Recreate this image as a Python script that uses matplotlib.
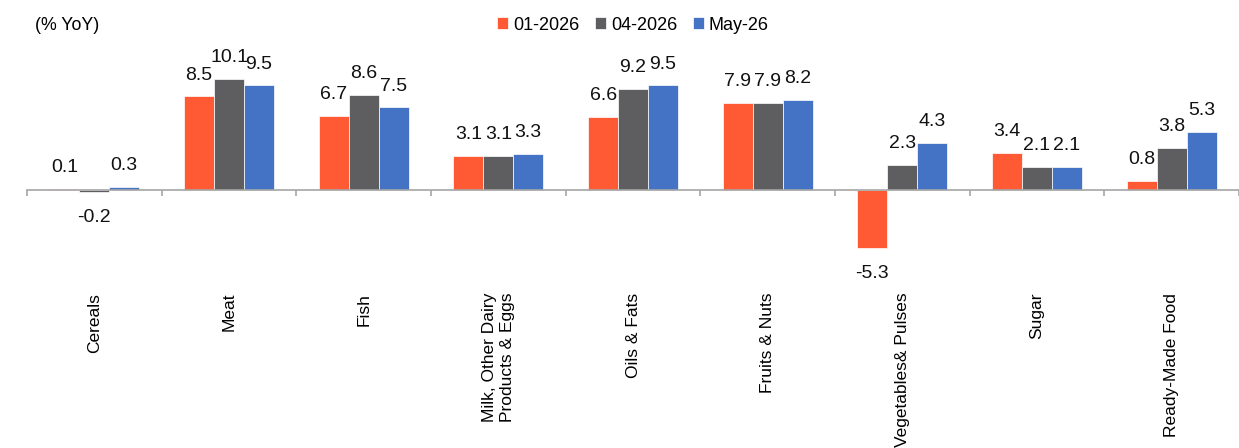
import matplotlib
matplotlib.use("Agg")
import matplotlib.pyplot as plt
import numpy as np

categories = ["Cereals", "Meat", "Fish", "Milk, Other Dairy\nProducts & Eggs", "Oils & Fats",
              "Fruits & Nuts", "Vegetables& Pulses", "Sugar", "Ready-Made Food"]
series_names = ["01-2026", "04-2026", "May-26"]
jan_2026 = [0.1, 8.5, 6.7, 3.1, 6.6, 7.9, -5.3, 3.4, 0.8]
apr_2026 = [-0.2, 10.1, 8.6, 3.1, 9.2, 7.9, 2.3, 2.1, 3.8]
may_2026 = [0.3, 9.5, 7.5, 3.3, 9.5, 8.2, 4.3, 2.1, 5.3]
colors = ["#FF5A33", "#5E5E60", "#4472C4"]

plt.rcParams['font.family'] = ['Liberation Sans', 'DejaVu Sans']

W, H = 1239, 448
fig = plt.figure(figsize=(W / 100, H / 100), dpi=100)
left_px, right_px = 27, 1239
ax = fig.add_axes([left_px / W, 0, (right_px - left_px) / W, 1])

ppu = 11.0  # pixels per unit
zero_px = 190
ax.set_ylim(-(H - zero_px) / ppu, zero_px / ppu)
ax.set_xlim(-0.5, len(categories) - 0.5)

x = np.arange(len(categories))
w = 0.222
all_series = [jan_2026, apr_2026, may_2026]
for j, (vals, name, c) in enumerate(zip(all_series, series_names, colors)):
    xs = x + (j - 1) * w
    ax.bar(xs, vals, width=w, color=c, edgecolor='white', linewidth=0.5, label=name, zorder=2)
    for xi, v in zip(xs, vals):
        if v >= 0:
            ax.annotate(f"{v:.1f}", (xi, v), xytext=(0, 12.2), textcoords='offset points',
                        ha='center', va='baseline', fontsize=14, color='#111111')
        else:
            ax.annotate(f"{v:.1f}", (xi, v), xytext=(0, -12.2), textcoords='offset points',
                        ha='center', va='top', fontsize=14, color='#111111')

for s in ['top', 'right', 'left']:
    ax.spines[s].set_visible(False)
ax.spines['bottom'].set_position(('data', 0))
ax.spines['bottom'].set_color('#A6A6A6')
ax.spines['bottom'].set_linewidth(1.2)
ax.spines['bottom'].set_zorder(3)
ax.set_yticks([])
ax.set_xticks(x)
ax.set_xticklabels(categories, rotation=90, fontsize=12.5, ha='center', va='top')
ax.set_xticks(np.arange(-0.5, len(categories), 1.0), minor=True)
ax.tick_params(axis='x', which='major', length=0, pad=74)
ax.tick_params(axis='x', which='minor', length=4, width=1.2, color='#A6A6A6', direction='out')

fig.text(35 / W, 1 - 25 / H, "(% YoY)", fontsize=12.8, va='center', ha='left')

leg = ax.legend(loc='center', bbox_to_anchor=(0.5, 1 - 25 / H), ncol=3, frameon=False,
                fontsize=13, handlelength=0.6, handleheight=0.6, handletextpad=0.3,
                columnspacing=0.85, borderaxespad=0)

fig.savefig("out.png", dpi=100)
